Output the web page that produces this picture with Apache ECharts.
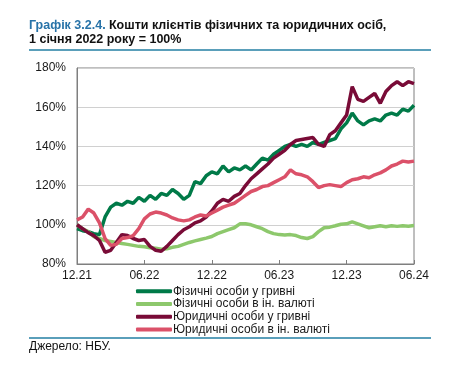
<!DOCTYPE html>
<html>
<head>
<meta charset="utf-8">
<script src="https://cdn.jsdelivr.net/npm/echarts@6/dist/echarts.min.js"></script>
<style>
html,body{margin:0;padding:0;background:#fff;}
#c{width:455px;height:369px;}
</style>
</head>
<body>
<div id="c"></div>
<script>
// x values: months since Dec 2021, semi-monthly
const xTickLabels = ['12.21','06.22','12.22','06.23','12.23','06.24'];
const seriesNames = ['Фізичні особи у гривні','Фізичні особи в ін. валюті','Юридичні особи у гривні','Юридичні особи в ін. валюті'];
const physUah = [98,97,96.5,95.5,95,104,109,111,110,112,111,114,112,115,113,116,115,118,116,113,115,122,121,125,127,126,130,127,129,128,130,128,131,134,133,136,138,140,141,140,141,140,142,141,142,143,144,149,152,157,153,151,153,154,153,156,157,156,159,158,161];
const physFx = [100,98,96.5,94,93,92,91.5,91,90.5,90,89.5,89,88.8,88.3,88,87.5,87.8,88.5,89,90,91,91.8,92.5,93.2,94,95.5,96.5,97.5,98.5,100.5,100.5,100,99,98,96.5,95.5,95,94.8,95,94.5,93.5,93,94,96.5,98.5,98.8,99.5,100.3,100.5,101.5,100.5,99.5,98.5,99,99.5,99,99.5,99.2,99.5,99.3,99.6];
const legalUah = [100,98,96,94.5,92,86,87,91,95,94.5,93,92,92.5,89,87,86.5,89,92,95,97.5,99,101,102,104,107,111,113,112,114.5,116,120,123.5,126,128.5,131,134,136,138,141,143,143.5,144,144.5,141,140,146,148,152,156,170.5,164,163,165,167,162,168,171,173,171,173,172];
const legalFx = [102.5,104,108,106,101,93,89.5,90,93,93.5,94.5,98,103,105.5,106.5,106,105,103.5,102.5,102,102.5,104,105,104.5,106,107.5,109,110,111,113,115,117,118,119.5,120,121.5,123,124.5,128,126,125.5,124.5,122,119,120,120.5,120,119.5,121.5,123,123.5,124.5,124,125.5,126.5,128,130,131,132.5,132,132.5];
const colors = ['#007A48','#8DC86C','#790B37','#DB5169'];

function pairs(arr){ return arr.map((v,i)=>[i*0.5, v]); }
const allData = [physUah, physFx, legalUah, legalFx];

const chart = echarts.init(document.getElementById('c'), null, {renderer:'canvas'});
const font = 'Arial, "Liberation Sans", sans-serif';
chart.setOption({
  animation:false,
  backgroundColor:'#fff',
  textStyle:{fontFamily:font},
  grid:{left:77,right:41,top:68,bottom:105,show:true,borderColor:'#7f7f7f',borderWidth:1,backgroundColor:'transparent'},
  xAxis:{type:'value',min:0,max:30,interval:6,
    axisLine:{show:true,lineStyle:{color:'#7f7f7f',width:1}},
    axisTick:{show:true,inside:true,length:4,lineStyle:{color:'#7f7f7f'}},
    splitLine:{show:false},
    axisLabel:{color:'#1a1a1a',fontSize:12,fontFamily:font,margin:6,
      formatter:function(v){return xTickLabels[Math.round(v/6)]||'';}}
  },
  yAxis:{type:'value',min:80,max:180,interval:20,
    axisLine:{show:true,lineStyle:{color:'#7f7f7f',width:1}},
    axisTick:{show:false},
    splitLine:{show:true,lineStyle:{color:'#d0d0d0',width:1}},
    axisLabel:{color:'#1a1a1a',fontSize:12,fontFamily:font,margin:11,formatter:'{value}%'}
  },
  legend:{orient:'vertical',left:131,top:280,itemWidth:36,itemHeight:4,itemGap:0,icon:'roundRect',
    textStyle:{fontSize:12,fontFamily:font,color:'#1a1a1a',lineHeight:12.7,padding:[0,0,0,-4]},
    data:seriesNames},
  series: seriesNames.map((n,i)=>({
    name:n,type:'line',data:pairs(allData[i]),showSymbol:false,symbol:'none',
    lineStyle:{color:colors[i],width:3.5},itemStyle:{color:colors[i]},z:2+i
  })),
  graphic:[
    {type:'text',left:29,top:19,style:{rich:{b:{fill:'#2873A8',font:'bold 12.5px '+font},k:{fill:'#111',font:'bold 12.5px '+font}},text:'{b|Графік 3.2.4.} {k|Кошти клієнтів фізичних та юридичних осіб,}'}},
    {type:'text',left:29,top:33,style:{fill:'#111',font:'bold 12.5px '+font,text:'1 січня 2022 року = 100%'}},
    {type:'rect',shape:{x:29,y:49,width:402,height:2},style:{fill:'#5A9FBA'}},
    {type:'rect',shape:{x:29,y:337,width:402,height:2},style:{fill:'#5A9FBA'}},
    {type:'text',left:29,top:341,style:{fill:'#111',font:'12px '+font,text:'Джерело: НБУ.'}}
  ]
});
</script>
</body>
</html>
